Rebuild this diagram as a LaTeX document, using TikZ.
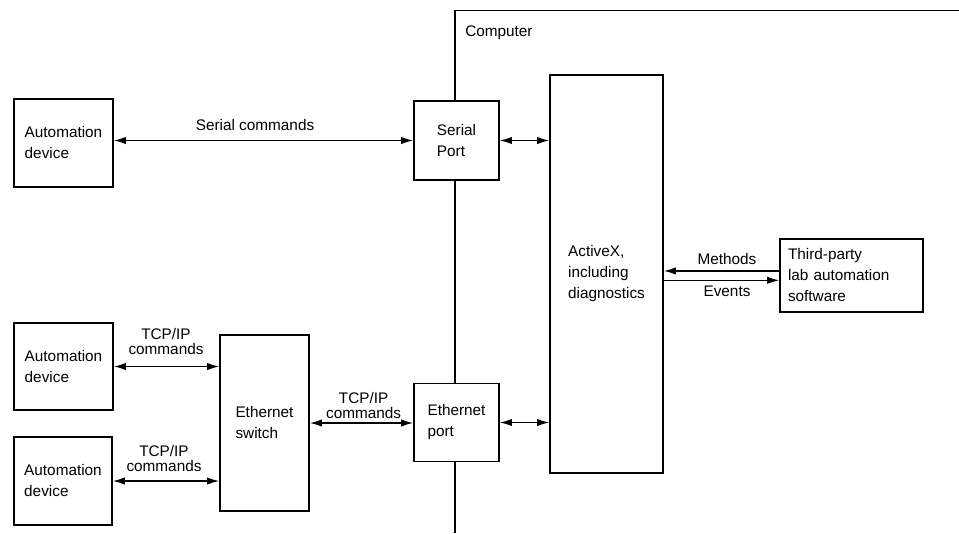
\documentclass[tikz,border=0pt]{standalone}
\usepackage{fontspec}
\setmainfont{Liberation Sans}
\usetikzlibrary{arrows.meta}
\newcommand{\tightlines}{\lineskiplimit=-20pt\relax}

\begin{document}
\begin{tikzpicture}[x=0.75pt, y=-0.75pt,
	box/.style={draw, line width=1.3pt, fill=white, align=left, inner sep=0pt,
		font=\fontsize{11.5}{15.75}\selectfont},
	lbl/.style={anchor=south, inner sep=0pt, align=center,
		font=\fontsize{11.5}{11}\selectfont\tightlines},
	link/.style={line width=1pt, {Latex[length=9pt,width=5.5pt]}-{Latex[length=9pt,width=5.5pt]}},
	oneway/.style={line width=1pt, -{Latex[length=9pt,width=5.5pt]}}]
	\useasboundingbox (0,0) rectangle (959,533);

	%% COMPUTER boundary
	\coordinate (comp_bottom) at (455,533);
	\coordinate (comp_corner) at (455,10.5);
	\coordinate (comp_right) at (959,10.5);
	\draw[line width=1.3pt] (comp_bottom) -- (comp_corner) -- (comp_right);
	\node[anchor=base west, inner sep=0pt, font=\fontsize{11.5}{15.75}\selectfont](comp_label) at (465,36){Computer};

	%% devices and switch
	\node[box, minimum width=74.25pt, minimum height=66pt](dev_serial) at (63.5,143){Automation\\device};
	\node[box, minimum width=74.25pt, minimum height=65.25pt](dev_tcp_a) at (63.5,366.5){Automation\\device};
	\node[box, minimum width=73.5pt, minimum height=66pt](dev_tcp_b) at (63,481){Automation\\device};
	\node[box, minimum width=66.75pt, minimum height=132pt](eth_switch) at (264.5,423){Ethernet\\switch};

	% PORTS
	\node[box, minimum width=63.75pt, minimum height=59.25pt](port_serial) at (456.5,140.5){Serial\\Port};
	\node[box, minimum width=63.75pt, minimum height=58.5pt](port_eth) at (456.5,422.5){Ethernet\\port};

	%% ACTIVEX and third-party software
	\node[box, minimum width=84.75pt, minimum height=298.5pt](activex) at (606.5,274){ActiveX,\\including\\diagnostics};
	\node[box, text width=95.25pt, minimum width=107.25pt, minimum height=54.75pt](third_party) at (851.5,275.5){Third-party\\lab automation\\software};

	% connections
	\draw[link] (port_serial.west -| dev_serial.east) -- (port_serial.west);
	\draw[link] (port_serial.east) -- (port_serial.east -| activex.west);
	\draw[link] (dev_tcp_a.east) -- (dev_tcp_a.east -| eth_switch.west);
	\draw[link] (dev_tcp_b.east) -- (dev_tcp_b.east -| eth_switch.west);
	\draw[link] (eth_switch.east) -- (eth_switch.east -| port_eth.west);
	\draw[link] (port_eth.east) -- (port_eth.east -| activex.west);
	\draw[oneway] ([yshift=3.4pt]third_party.west) -- ([yshift=3.4pt]third_party.west -| activex.east);
	\draw[oneway] ([yshift=-3.6pt]third_party.west -| activex.east) -- ([yshift=-3.6pt]third_party.west);

	% labels
	\node[lbl](lbl_serial) at (255,130.7){Serial commands};
	\node[lbl](lbl_tcp_a) at (166,355){TCP/IP\\commands};
	\node[lbl](lbl_tcp_b) at (164,471.5){TCP/IP\\commands};
	\node[lbl](lbl_tcp_c) at (363.6,418.5){TCP/IP\\commands};
	\node[lbl](lbl_methods) at (727,265){Methods};
	\node[lbl](lbl_events) at (727,297){Events};
\end{tikzpicture}
\end{document}
